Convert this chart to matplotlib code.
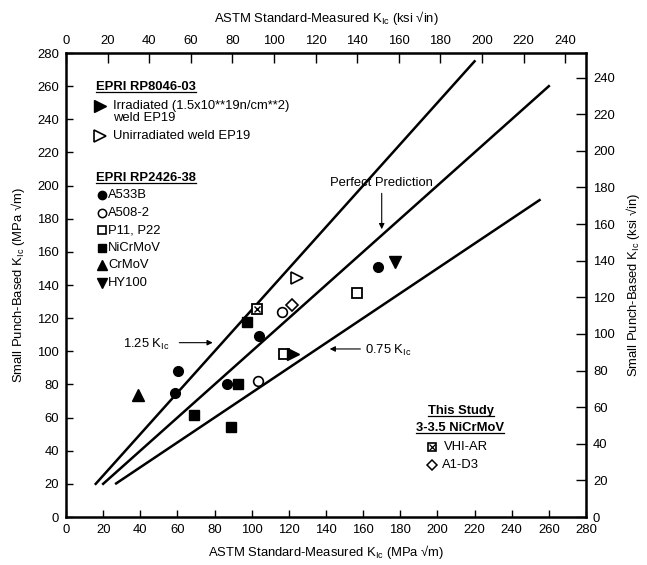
import numpy as np
import matplotlib
matplotlib.use("Agg")
import matplotlib.pyplot as plt
from matplotlib.lines import Line2D

plt.rcParams['font.family'] = ['Liberation Sans', 'DejaVu Sans']
plt.rcParams['mathtext.fontset'] = 'custom'
plt.rcParams['mathtext.rm'] = 'Liberation Sans'
plt.rcParams['mathtext.it'] = 'Liberation Sans:italic'
plt.rcParams['mathtext.bf'] = 'Liberation Sans:bold'

# data (MPa sqrt(m)): x = ASTM measured, y = small punch based
a533b_x = [60.5, 58.7, 86.5, 104.1, 168.0]
a533b_y = [88.1, 75.0, 80.0, 109.4, 151.0]
a508_x = [103.2, 116.1]
a508_y = [82.1, 123.6]
p11_x = [117.4, 156.8]
p11_y = [98.4, 135.0]
nicrmov_x = [68.9, 88.7, 92.8, 97.6]
nicrmov_y = [61.6, 54.5, 80.2, 117.9]
crmov_x = [38.6]
crmov_y = [73.6]
hy100_x = [177.2]
hy100_y = [154.1]
irr_x = [122.4]
irr_y = [98.4]
unirr_x = [124.4]
unirr_y = [144.5]
vhi_x = [102.7]
vhi_y = [125.3]
a1d3_x = [121.8]
a1d3_y = [127.7]

# prediction lines y = k*x
line_k = [1.25, 1.0, 0.75]
line_x0 = [16, 20, 27]
line_x1 = [220, 260, 255]

mpa_ticks = list(range(0, 281, 20))
ksi_ticks = list(range(0, 241, 20))
ksi_x_factor = 1.12
ksi_y_factor = 1.105

fs = 9.4

fig = plt.figure(figsize=(6.47, 5.65), dpi=100)
ax = fig.add_axes([66 / 647, 1 - 517 / 565, 520 / 647, 464 / 565])
ax.set_xlim(0, 280)
ax.set_ylim(0, 280)
ax.set_xticks(mpa_ticks)
ax.set_yticks(mpa_ticks)
ax.tick_params(direction='in', length=5, width=1, labelsize=fs, pad=5)
for s in ax.spines.values():
    s.set_linewidth(1.8)

top = ax.secondary_xaxis('top', functions=(lambda x: x / ksi_x_factor, lambda x: x * ksi_x_factor))
top.set_xticks(ksi_ticks)
top.tick_params(direction='in', length=7, width=1, labelsize=fs, pad=4)
right = ax.secondary_yaxis('right', functions=(lambda y: y / ksi_y_factor, lambda y: y * ksi_y_factor))
right.set_yticks(ksi_ticks)
right.tick_params(direction='in', length=7, width=1, labelsize=fs, pad=5)

for k, x0, x1 in zip(line_k, line_x0, line_x1):
    ax.plot([x0, x1], [k * x0, k * x1], color='black', lw=1.8)

ms = 7
ax.plot(a533b_x, a533b_y, 'o', color='black', ms=ms)
ax.plot(a508_x, a508_y, 'o', mfc='white', mec='black', mew=1.2, ms=ms)
ax.plot(p11_x, p11_y, 's', mfc='white', mec='black', mew=1.3, ms=ms)
ax.plot(nicrmov_x, nicrmov_y, 's', color='black', ms=ms)
ax.plot(crmov_x, crmov_y, '^', color='black', ms=8)
ax.plot(hy100_x, hy100_y, 'v', color='black', ms=8)
ax.plot(irr_x, irr_y, '>', color='black', ms=8)
ax.plot(unirr_x, unirr_y, '>', mfc='white', mec='black', mew=1.2, ms=8)
ax.plot(vhi_x, vhi_y, 's', mfc='white', mec='black', mew=1.3, ms=ms)
ax.plot(vhi_x, vhi_y, 'x', color='black', mew=1.0, ms=5)
ax.plot(a1d3_x, a1d3_y, 'D', mfc='white', mec='black', mew=1.2, ms=6)

# annotations
ax.text(170, 201.6, 'Perfect Prediction', ha='center', va='center', fontsize=fs)
ax.annotate('', xy=(170, 172), xytext=(170, 197),
            arrowprops=dict(arrowstyle='-|>', color='black', lw=0.8, mutation_scale=8))
ax.text(30.7, 104.0, '1.25 K$_{\\mathrm{Ic}}$', ha='left', va='center', fontsize=fs)
ax.annotate('', xy=(80.5, 105.2), xytext=(59.5, 105.2),
            arrowprops=dict(arrowstyle='-|>', color='black', lw=0.8, mutation_scale=8))
ax.text(161, 100.5, '0.75 K$_{\\mathrm{Ic}}$', ha='left', va='center', fontsize=fs)
ax.annotate('', xy=(140.5, 101.4), xytext=(160, 101.4),
            arrowprops=dict(arrowstyle='-|>', color='black', lw=0.8, mutation_scale=8))

# legend
headings = []
headings.append(ax.text(16.2, 259.3, 'EPRI RP8046-03', fontsize=fs, fontweight='bold', va='center'))
ax.plot([18.5], [248.0], '>', color='black', ms=8)
ax.text(25.3, 248.0, 'Irradiated (1.5x10**19n/cm**2)', fontsize=fs, va='center')
ax.text(25.3, 241.0, 'weld EP19', fontsize=fs, va='center')
ax.plot([18.5], [229.9], '>', mfc='white', mec='black', mew=1.2, ms=8)
ax.text(25.1, 229.9, 'Unirradiated weld EP19', fontsize=fs, va='center')

headings.append(ax.text(16.2, 204.8, 'EPRI RP2426-38', fontsize=fs, fontweight='bold', va='center'))
leg_y = [194.3, 183.7, 173.1, 162.5, 151.9, 141.3]
leg_lab = ['A533B', 'A508-2', 'P11, P22', 'NiCrMoV', 'CrMoV', 'HY100']
leg_style = [dict(marker='o', color='black', ms=6),
             dict(marker='o', mfc='white', mec='black', mew=1.1, ms=6),
             dict(marker='s', mfc='white', mec='black', mew=1.2, ms=6),
             dict(marker='s', color='black', ms=6),
             dict(marker='^', color='black', ms=7),
             dict(marker='v', color='black', ms=7)]
for yy, lab, st in zip(leg_y, leg_lab, leg_style):
    ax.plot([19.2], [yy], ls='none', **st)
    ax.text(22.8, yy, lab, fontsize=fs, va='center')

headings.append(ax.text(212.7, 63.8, 'This Study', fontsize=fs, fontweight='bold', ha='center', va='center'))
headings.append(ax.text(212.4, 53.7, '3-3.5 NiCrMoV', fontsize=fs, fontweight='bold', ha='center', va='center'))
ax.plot([197.3], [42.4], 's', mfc='white', mec='black', mew=1.2, ms=6)
ax.plot([197.3], [42.4], 'x', color='black', mew=0.9, ms=4.5)
ax.text(203.6, 42.4, 'VHI-AR', fontsize=fs, va='center')
ax.plot([197.3], [31.4], 'D', mfc='white', mec='black', mew=1.1, ms=5.5)
ax.text(202.7, 31.4, 'A1-D3', fontsize=fs, va='center')

# axis titles
fig.text(326 / 647, 1 - 552 / 565, 'ASTM Standard-Measured K$_{\\mathrm{Ic}}$ (MPa \u221am)',
         ha='center', va='center', fontsize=fs)
fig.text(326 / 647, 1 - 18 / 565, 'ASTM Standard-Measured K$_{\\mathrm{Ic}}$ (ksi \u221ain)',
         ha='center', va='center', fontsize=fs)
fig.text(18 / 647, 1 - 285 / 565, 'Small Punch-Based K$_{\\mathrm{Ic}}$ (MPa \u221am)',
         ha='center', va='center', rotation=90, fontsize=fs)
fig.text(633 / 647, 1 - 285 / 565, 'Small Punch-Based K$_{\\mathrm{Ic}}$ (ksi \u221ain)',
         ha='center', va='center', rotation=90, fontsize=fs)

# underline the legend headings
fig.canvas.draw()
r = fig.canvas.get_renderer()
inv = fig.transFigure.inverted()
for t in headings:
    bb = t.get_window_extent(r)
    (x0, y0), (x1, _) = inv.transform([(bb.x0, bb.y0 + 1), (bb.x1, bb.y0 + 1)])
    fig.add_artist(Line2D([x0, x1], [y0, y0], color='black', lw=0.9, transform=fig.transFigure))

fig.savefig('out.png', dpi=100)
